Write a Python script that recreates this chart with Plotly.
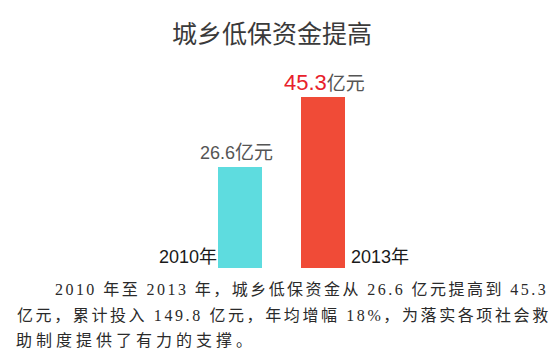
import plotly.graph_objects as go

# ---- data ----
categories = ["2010年", "2013年"]
values = [26.6, 45.3]
value_units = ["亿元", "亿元"]
title_text = "城乡低保资金提高"
para_lines = [
    "2010 年至 2013 年，城乡低保资金从 26.6 亿元提高到 45.3",
    "亿元，累计投入 149.8 亿元，年均增幅 18%，为落实各项社会救",
    "助制度提供了有力的支撑。",
]

# ---- style ----
W, H = 550, 352
bar_colors = ["#5EDCDF", "#F04B37"]
bar_width = 0.527
plot_bottom_px = 268
cjk = "Noto Sans CJK SC"

idx = list(range(len(categories)))

fig = go.Figure()
fig.add_trace(go.Bar(
    x=idx, y=values, width=bar_width,
    marker=dict(color=bar_colors, line=dict(width=0)),
    hoverinfo="skip", showlegend=False,
))

def px_x(p):
    return p / W

def px_y(p):
    return 1 - p / H

ann = []
# title
ann.append(dict(xref="paper", yref="paper", x=px_x(272), y=px_y(32),
                xanchor="center", yanchor="middle", showarrow=False,
                text=title_text,
                font=dict(family=cjk, size=25, color="#3a3a3a")))

# value labels
label_cfg = [
    dict(num_color="#555555", num_size=18, unit_size=19, xshift=-3.5, yshift=14.5),
    dict(num_color="#E8212B", num_size=22, unit_size=19, xshift=1.5, yshift=14),
]
for i, v in enumerate(values):
    c = label_cfg[i]
    txt = (f"<span style='font-size:{c['num_size']}px;color:{c['num_color']}'>{v}</span>"
           f"<span style='font-size:{c['unit_size']}px;color:#555555'>{value_units[i]}</span>")
    ann.append(dict(xref="x", yref="y", x=i, y=v, xanchor="center", yanchor="middle",
                    xshift=c["xshift"], yshift=c["yshift"], showarrow=False, text=txt,
                    font=dict(family="Liberation Sans, " + cjk, size=19, color="#555555")))

# year labels beside bars
ann.append(dict(xref="x", yref="y", x=idx[0] - bar_width / 2, y=0, xanchor="right",
                yanchor="middle", yshift=11, xshift=1, showarrow=False, text=categories[0],
                font=dict(family="Liberation Sans, " + cjk, size=18, color="#1a1a1a")))
ann.append(dict(xref="x", yref="y", x=idx[1] + bar_width / 2, y=0, xanchor="left",
                yanchor="middle", yshift=11, xshift=4, showarrow=False, text=categories[1],
                font=dict(family="Liberation Sans, " + cjk, size=18, color="#1a1a1a")))

# paragraph
para_pos = [(53, 289, 2.45), (15, 315, 2.6), (14, 340, 4.0)]
for line, (xp, yp, ls) in zip(para_lines, para_pos):
    ann.append(dict(xref="paper", yref="paper", x=px_x(xp), y=px_y(yp),
                    xanchor="left", yanchor="middle", showarrow=False,
                    text=f"<span style='letter-spacing:{ls}px'>{line}</span>",
                    font=dict(family="Liberation Serif, " + cjk, size=16, color="#2a2a2a")))

fig.update_layout(
    width=W, height=H,
    margin=dict(l=0, r=0, t=0, b=0),
    paper_bgcolor="white", plot_bgcolor="white",
    xaxis=dict(range=[-2.874, 3.713], visible=False, fixedrange=True),
    yaxis=dict(range=[0, 70.9], visible=False, domain=[(H - plot_bottom_px) / H, 1],
               fixedrange=True),
    annotations=ann,
    bargap=0,
)

fig.write_html("out.html", config={"displayModeBar": False})
